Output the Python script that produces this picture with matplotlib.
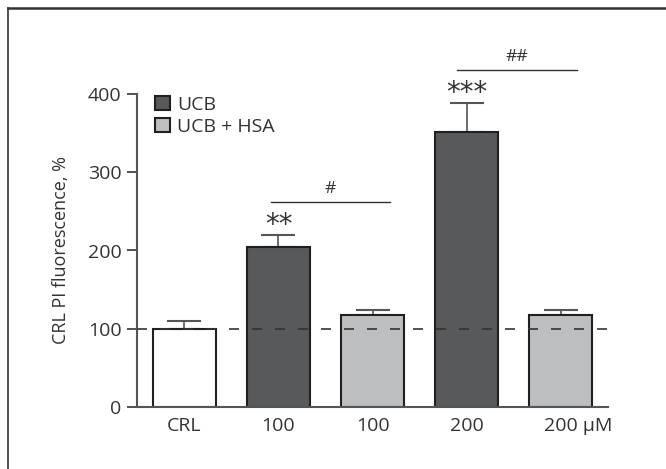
import matplotlib
matplotlib.use("Agg")
import matplotlib.pyplot as plt
import matplotlib.transforms as mtransforms
from matplotlib.patches import Patch
from matplotlib.lines import Line2D

plt.rcParams['font.family'] = ['Open Sans', 'DejaVu Sans']

categories = ["CRL", "100", "100", "200", "200"]
groups = ["CRL", "UCB", "UCB + HSA", "UCB", "UCB + HSA"]
values = [100, 205, 117, 351, 117]
errors = [10, 15, 7, 37, 7]
stars = ["", "**", "", "***", ""]
star_y = [None, 232, None, 401, None]
brackets = [(0.92, 2.19, 262, "#"), (2.90, 4.17, 431, "##")]
baseline = 100
unit_label = "μM"

colors = {"CRL": "white", "UCB": "#58595b", "UCB + HSA": "#bcbec0"}
edge = "#231f20"
text_col = "#333333"

fig = plt.figure(figsize=(6.66, 4.69), dpi=100)
ax = fig.add_axes([137/666, 1-407/469, (608-137)/666, (407-94)/469])

x = list(range(len(values)))
ax.bar(x, values, width=0.67, color=[colors[g] for g in groups],
       edgecolor=edge, linewidth=1.5, zorder=2)
ax.errorbar(x, values, yerr=[[0]*len(errors), errors], fmt='none',
            ecolor="#555555", elinewidth=1.2, capsize=12, capthick=1.5, zorder=1)

ax.plot([-0.5, 4.57], [baseline, baseline], ls=(0, (6.0, 7.8)), color="#333333",
        lw=1.2, clip_on=False, zorder=3)

for xi, s, sy in zip(x, stars, star_y):
    if s:
        ax.text(xi, sy, s, ha='center', va='center', fontsize=20,
                family='DejaVu Sans', color=text_col, clip_on=False)

for x0, x1, y, lab in brackets:
    ax.plot([x0, x1], [y, y], color="#333333", lw=1.0, clip_on=False)
    ax.text((x0+x1)/2, y + 16, lab, ha='center', va='center', fontsize=12.5,
            color=text_col, clip_on=False)

ax.set_xlim(-0.505, 4.505)
ax.set_ylim(0, 400)
ax.set_yticks([0, 100, 200, 300, 400])
ax.set_xticks(x)
labels = list(categories)
labels[-1] = labels[-1] + " " + unit_label
ax.set_xticklabels(labels)
ax.tick_params(axis='x', length=0, pad=7, labelsize=14, labelcolor=text_col)
ax.tick_params(axis='y', length=7, width=1.2, pad=4, labelsize=14,
               labelcolor=text_col, color="#333333")
last = ax.get_xticklabels()[-1]
last.set_transform(last.get_transform() +
                   mtransforms.ScaledTranslation(18/100, 0, fig.dpi_scale_trans))
for sp in ['top', 'right']:
    ax.spines[sp].set_visible(False)
for sp in ['left', 'bottom']:
    ax.spines[sp].set_color("#555555")
    ax.spines[sp].set_linewidth(1.5)
ax.set_ylabel("CRL PI fluorescence, %", fontsize=13, color=text_col, labelpad=13)

handles = [Patch(facecolor=colors["UCB"], edgecolor=edge, linewidth=1.5),
           Patch(facecolor=colors["UCB + HSA"], edgecolor=edge, linewidth=1.5)]
leg = ax.legend(handles, ["UCB", "UCB + HSA"], loc='upper left',
                bbox_to_anchor=(155/666, 1-96/469), bbox_transform=fig.transFigure,
                frameon=False, handlelength=0.75, handleheight=0.75,
                handletextpad=0.4, labelspacing=0.2, borderpad=0,
                borderaxespad=0, fontsize=14)
for t in leg.get_texts():
    t.set_color(text_col)

fig.add_artist(Line2D([8/666, 1.0], [1-8/469, 1-8/469], transform=fig.transFigure,
                      color="#333333", lw=1.8))
fig.add_artist(Line2D([8/666, 8/666], [0, 1-8/469], transform=fig.transFigure,
                      color="#333333", lw=1.2))

fig.savefig("out.png", dpi=100)
